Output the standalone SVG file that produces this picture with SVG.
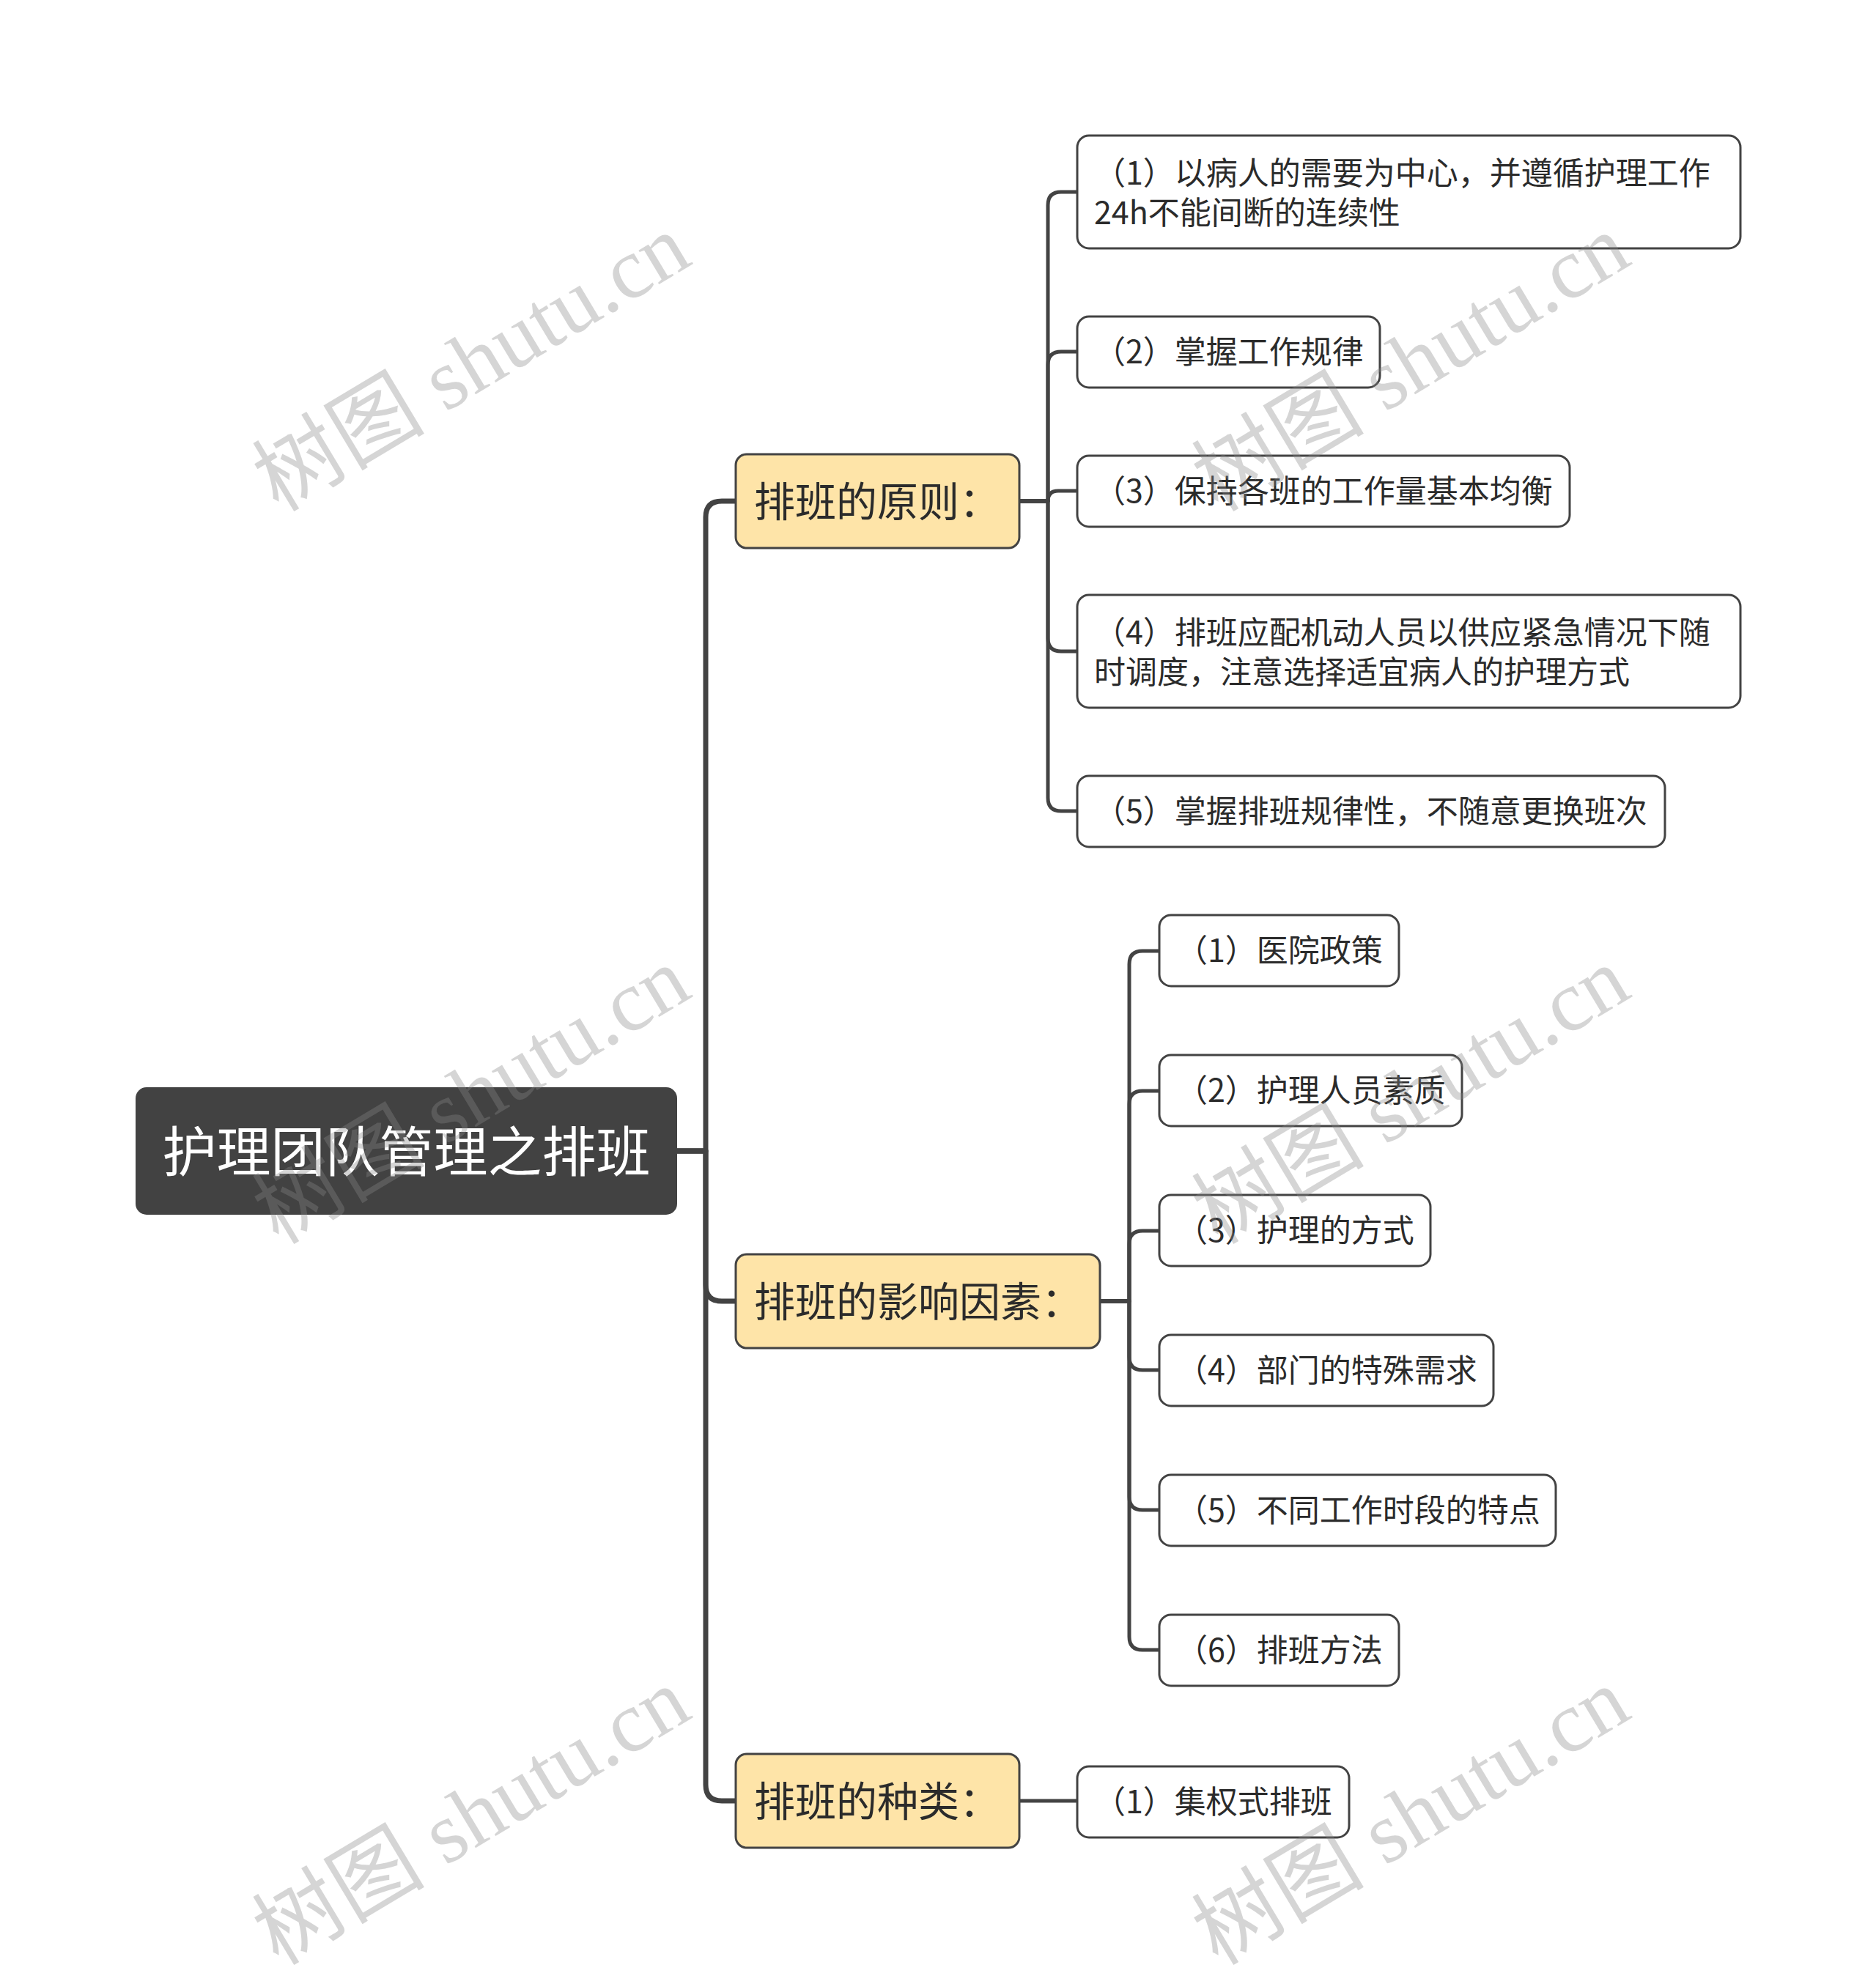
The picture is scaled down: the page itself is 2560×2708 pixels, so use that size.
<svg xmlns="http://www.w3.org/2000/svg" width="2560" height="2708" viewBox="0 0 2560 2708">
<style>
.bg{fill:#ffffff}
.conn path{fill:none;stroke:#434343;stroke-linecap:round;stroke-linejoin:round}
.c1{stroke-width:7}
.c2{stroke-width:5}
.root rect{fill:#424242}
.root text{fill:#ffffff;font-size:74px;text-anchor:middle}
.branch rect{fill:#FEE4A8;stroke:#434343;stroke-width:3}
.branch text{fill:#2b2b2b;font-size:56px}
.leaf rect{fill:#ffffff;stroke:#434343;stroke-width:3}
.leaf text{fill:#2b2b2b;font-size:43px}
text{font-family:"Noto Sans CJK SC","Noto Sans",sans-serif}
.wm text{font-family:"Liberation Serif","Noto Sans CJK SC",serif;font-size:118px;fill:#888888;fill-opacity:0.35}
</style>
<rect class="bg" x="0" y="0" width="2560" height="2708"/>

<g id="connectors" class="conn">
  <path class="c1" d="M924 1571 H963 V706 Q963 684 985 684 H1004"/>
  <path class="c1" d="M924 1571 H963 V1754 Q963 1776 985 1776 H1004"/>
  <path class="c1" d="M924 1571 H963 V2436 Q963 2458 985 2458 H1004"/>
  <path class="c2" d="M1391 684 H1430 V280 Q1430 262 1448 262 H1470"/>
  <path class="c2" d="M1391 684 H1430 V498 Q1430 480 1448 480 H1470"/>
  <path class="c2" d="M1391 684 H1430 Q1430 670 1444 670 H1470"/>
  <path class="c2" d="M1391 684 H1430 V871 Q1430 889 1448 889 H1470"/>
  <path class="c2" d="M1391 684 H1430 V1089 Q1430 1107 1448 1107 H1470"/>
  <path class="c2" d="M1501 1776 H1541 V1316 Q1541 1298 1559 1298 H1582"/>
  <path class="c2" d="M1501 1776 H1541 V1507 Q1541 1489 1559 1489 H1582"/>
  <path class="c2" d="M1501 1776 H1541 V1698 Q1541 1680 1559 1680 H1582"/>
  <path class="c2" d="M1501 1776 H1541 V1852 Q1541 1870 1559 1870 H1582"/>
  <path class="c2" d="M1501 1776 H1541 V2043 Q1541 2061 1559 2061 H1582"/>
  <path class="c2" d="M1501 1776 H1541 V2234 Q1541 2252 1559 2252 H1582"/>
  <path class="c2" d="M1391 2458 H1470"/>
</g>

<g id="root" class="root">
  <rect x="185" y="1484" width="739" height="174" rx="15"/>
  <text x="554.5" y="1599">护理团队管理之排班</text>
</g>

<g id="branch-a" class="branch">
  <rect x="1004" y="620" width="387" height="128" rx="15"/>
  <text x="1029" y="705">排班的原则：</text>
</g>
<g id="branch-b" class="branch">
  <rect x="1004" y="1712" width="497" height="128" rx="15"/>
  <text x="1029" y="1797">排班的影响因素：</text>
</g>
<g id="branch-c" class="branch">
  <rect x="1004" y="2394" width="387" height="128" rx="15"/>
  <text x="1029" y="2479">排班的种类：</text>
</g>

<g id="a1" class="leaf">
  <rect x="1470" y="185" width="905" height="154" rx="16"/>
  <text x="1493" y="252">（1）以病人的需要为中心，并遵循护理工作</text>
  <text x="1493" y="306">24h不能间断的连续性</text>
</g>
<g id="a2" class="leaf">
  <rect x="1470" y="432" width="413" height="97" rx="16"/>
  <text x="1493" y="496">（2）掌握工作规律</text>
</g>
<g id="a3" class="leaf">
  <rect x="1470" y="622" width="672" height="97" rx="16"/>
  <text x="1493" y="686">（3）保持各班的工作量基本均衡</text>
</g>
<g id="a4" class="leaf">
  <rect x="1470" y="812" width="905" height="154" rx="16"/>
  <text x="1493" y="879">（4）排班应配机动人员以供应紧急情况下随</text>
  <text x="1493" y="933">时调度，注意选择适宜病人的护理方式</text>
</g>
<g id="a5" class="leaf">
  <rect x="1470" y="1059" width="802" height="97" rx="16"/>
  <text x="1493" y="1123">（5）掌握排班规律性，不随意更换班次</text>
</g>

<g id="b1" class="leaf">
  <rect x="1582" y="1249" width="327" height="97" rx="16"/>
  <text x="1605" y="1313">（1）医院政策</text>
</g>
<g id="b2" class="leaf">
  <rect x="1582" y="1440" width="413" height="97" rx="16"/>
  <text x="1605" y="1504">（2）护理人员素质</text>
</g>
<g id="b3" class="leaf">
  <rect x="1582" y="1631" width="370" height="97" rx="16"/>
  <text x="1605" y="1695">（3）护理的方式</text>
</g>
<g id="b4" class="leaf">
  <rect x="1582" y="1822" width="456" height="97" rx="16"/>
  <text x="1605" y="1886">（4）部门的特殊需求</text>
</g>
<g id="b5" class="leaf">
  <rect x="1582" y="2013" width="541" height="97" rx="16"/>
  <text x="1605" y="2077">（5）不同工作时段的特点</text>
</g>
<g id="b6" class="leaf">
  <rect x="1582" y="2204" width="327" height="97" rx="16"/>
  <text x="1605" y="2268">（6）排班方法</text>
</g>

<g id="c1" class="leaf">
  <rect x="1470" y="2411" width="371" height="97" rx="16"/>
  <text x="1493" y="2475">（1）集权式排班</text>
</g>

<g id="watermarks" class="wm">
  <text transform="translate(380 700) rotate(-31)">树图 shutu.cn</text>
  <text transform="translate(1662 700) rotate(-31)">树图 shutu.cn</text>
  <text transform="translate(380 1700) rotate(-31)">树图 shutu.cn</text>
  <text transform="translate(1662 1700) rotate(-31)">树图 shutu.cn</text>
  <text transform="translate(380 2684) rotate(-31)">树图 shutu.cn</text>
  <text transform="translate(1662 2684) rotate(-31)">树图 shutu.cn</text>
</g>
</svg>
